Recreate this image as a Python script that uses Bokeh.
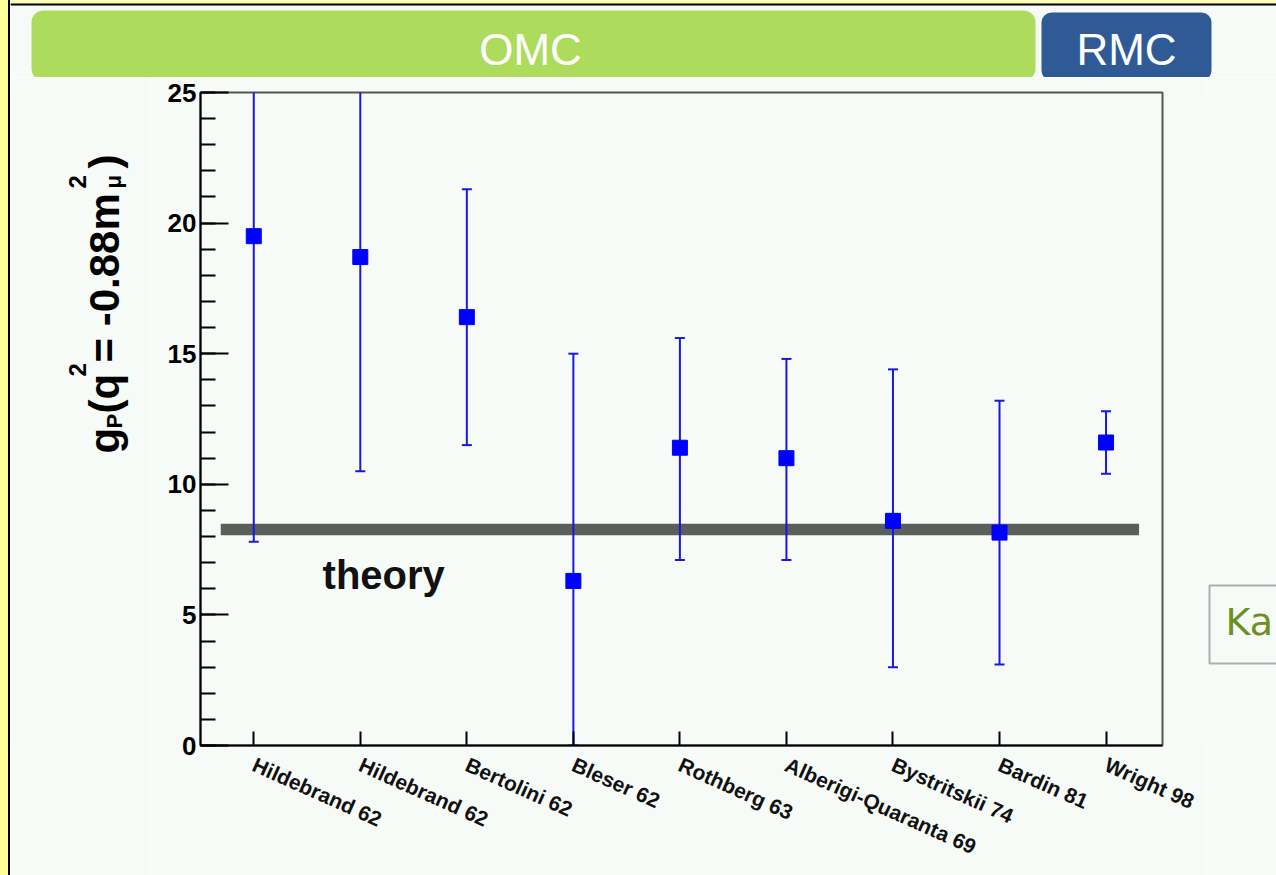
import math
from bokeh.plotting import figure
from bokeh.layouts import column, row
from bokeh.models import ColumnDataSource, FixedTicker, Label, BoxAnnotation, Range1d, Div
from bokeh.embed import file_html
from bokeh.resources import INLINE

# ---------------- data ----------------
experiments = ["Hildebrand 62", "Hildebrand 62", "Bertolini 62", "Bleser 62", "Rothberg 63",
               "Alberigi-Quaranta 69", "Bystritskii 74", "Bardin 81", "Wright 98"]
gp_value = [19.5, 18.7, 16.4, 6.3, 11.4, 11.0, 8.6, 8.15, 11.6]
gp_lower = [7.8, 10.5, 11.5, 0.0, 7.1, 7.1, 3.0, 3.1, 10.4]
gp_upper = [31.2, 26.9, 21.3, 15.0, 15.6, 14.8, 14.4, 13.2, 12.8]
theory_value = 8.27
theory_halfwidth = 0.22
y_ticks = [0, 5, 10, 15, 20, 25]

W, H = 1276, 875
STRIP_W = 10        # yellow/black left edge
TOP_H = 77          # height of banner strip
LEFT_R = 150        # right edge (canvas px) of the y-title strip
RIGHT_L = 1206      # left edge (canvas px) of the right strip
FRAME_L, FRAME_R = 200, 1162
FRAME_T, FRAME_B = 92, 745
MAIN_H = H - TOP_H
BG = "#f7fbf8"
FONT = "Liberation Sans"
YELLOW = "#ffff99"


def deco_fig(x0, x1, y_top, y_bottom, h, b_top=0, b_bottom=0):
    f = figure(width=x1 - x0, height=h, output_backend="svg", toolbar_location=None,
               x_range=Range1d(x0, x1), y_range=Range1d(y_bottom, y_top),
               x_axis_type=None, y_axis_type=None,
               min_border_left=0, min_border_right=0, min_border_top=b_top, min_border_bottom=b_bottom)
    f.background_fill_color = BG
    f.border_fill_color = BG
    f.outline_line_color = None
    f.xgrid.visible = False
    f.ygrid.visible = False
    return f


# ---------------- left yellow edge ----------------
edge = Div(text="", width=STRIP_W, height=H, margin=0,
           styles={"background-color": YELLOW, "border-right": "2px solid black",
                   "box-sizing": "border-box"})

# ---------------- top banner strip (canvas coordinates) ----------------
top = deco_fig(STRIP_W, W, 0, TOP_H, TOP_H)
top.quad(left=[STRIP_W, STRIP_W], right=[W, W], top=[0, 3], bottom=[3, 5],
         fill_color=[YELLOW, "black"], line_alpha=0)
top.add_layout(BoxAnnotation(left=31, right=1035, top=10, bottom=TOP_H + 3, fill_color="#addb5c",
                             fill_alpha=1, line_alpha=0, border_radius=12))
top.add_layout(BoxAnnotation(left=1041, right=1211, top=12, bottom=TOP_H + 3, fill_color="#2f5a96",
                             fill_alpha=1, line_alpha=0, border_radius=10))
top.add_layout(Label(x=530, y=49, text="OMC", text_align="center", text_baseline="middle",
                     text_font=FONT, text_font_size="44px", text_color="white"))
top.add_layout(Label(x=1126, y=49, text="RMC", text_align="center", text_baseline="middle",
                     text_font=FONT, text_font_size="44px", text_color="white"))

# ---------------- left strip with rotated y title (canvas coordinates) ----------------
left = deco_fig(STRIP_W, LEFT_R, FRAME_T, FRAME_B, MAIN_H, FRAME_T - TOP_H, H - FRAME_B)


def vlabel(text, px, py, size):
    left.add_layout(Label(x=px, y=py, text=text, angle=math.pi / 2,
                          text_align="left", text_baseline="alphabetic",
                          text_font=FONT, text_font_style="bold", text_font_size=size,
                          text_color="black"))


vlabel("g", 104, 453, "42px")
vlabel("P", 114, 428, "22px")
vlabel("(q", 104, 413, "42px")
vlabel("2", 77, 376, "24px")
vlabel(" = -0.88m", 104, 362, "42px")
vlabel("2", 77, 188, "24px")
vlabel("\u03bc", 113, 188, "22px")
vlabel(")", 104, 168, "42px")

# ---------------- right strip (canvas coordinates) ----------------
right = deco_fig(RIGHT_L, W, FRAME_T, FRAME_B, MAIN_H, FRAME_T - TOP_H, H - FRAME_B)
right.add_layout(BoxAnnotation(left=1209, right=W + 20, top=585, bottom=663,
                               fill_color=BG, fill_alpha=1, line_color="black", line_width=2))
right.add_layout(Label(x=1225, y=643, text="Ka", text_align="left", text_baseline="bottom",
                       text_font="DejaVu Sans", text_font_size="38px", text_color="#6b9020"))

# ---------------- main chart ----------------
p = figure(width=RIGHT_L - LEFT_R, height=MAIN_H, output_backend="svg", toolbar_location=None,
           x_range=Range1d(-0.5, 8.53), y_range=Range1d(0, 25),
           min_border_left=FRAME_L - LEFT_R, min_border_right=RIGHT_L - FRAME_R,
           min_border_top=FRAME_T - TOP_H, min_border_bottom=H - FRAME_B)
p.background_fill_color = BG
p.border_fill_color = BG
p.outline_line_color = "#555555"
p.outline_line_width = 2
p.xgrid.visible = False
p.ygrid.visible = False

xs = list(range(len(experiments)))
src = ColumnDataSource(dict(x=xs, y=gp_value, lo=gp_lower, hi=gp_upper))

p.hbar(y=[theory_value], left=[-0.31], right=[8.31], height=2 * theory_halfwidth,
       color="#5b5f5c", line_alpha=0)
p.segment(x0="x", y0="lo", x1="x", y1="hi", source=src, line_color="#1818e0", line_width=2)
p.scatter(x="x", y="lo", source=src, marker="dash", size=10, line_color="#1818e0", line_width=2)
p.scatter(x="x", y="hi", source=src, marker="dash", size=10, line_color="#1818e0", line_width=2)
p.scatter(x="x", y="y", source=src, marker="square", size=15, fill_color="#0000ff", line_color="#0000ff")

p.yaxis.ticker = FixedTicker(ticks=y_ticks, minor_ticks=list(range(0, 26)))
p.yaxis.major_tick_in = 28
p.yaxis.major_tick_out = 0
p.yaxis.minor_tick_in = 15
p.yaxis.minor_tick_out = 0
p.yaxis.axis_line_width = 2
p.yaxis.major_tick_line_width = 2
p.yaxis.minor_tick_line_width = 2
p.yaxis.major_label_text_font = FONT
p.yaxis.major_label_text_font_style = "bold"
p.yaxis.major_label_text_font_size = "26px"
p.yaxis.major_label_text_color = "black"
p.yaxis.major_label_standoff = 4

p.xaxis.ticker = FixedTicker(ticks=xs, minor_ticks=[])
p.xaxis.major_label_overrides = {i: n for i, n in enumerate(experiments)}
p.xaxis.major_tick_in = 14
p.xaxis.major_tick_out = 0
p.xaxis.axis_line_width = 2
p.xaxis.major_tick_line_width = 2
p.xaxis.major_label_orientation = -0.42
p.xaxis.major_label_text_font = FONT
p.xaxis.major_label_text_font_style = "bold"
p.xaxis.major_label_text_font_size = "21px"
p.xaxis.major_label_text_color = "#111111"
p.xaxis.major_label_standoff = 18

# theory label inside the frame (data units)
p.add_layout(Label(x=1.22, y=5.67, text="theory", text_align="center", text_baseline="bottom",
                   text_font=FONT, text_font_style="bold", text_font_size="40px", text_color="#111111"))

layout = row(edge, column(top, row(left, p, right)))
open("out.html", "w").write(file_html(layout, INLINE))
